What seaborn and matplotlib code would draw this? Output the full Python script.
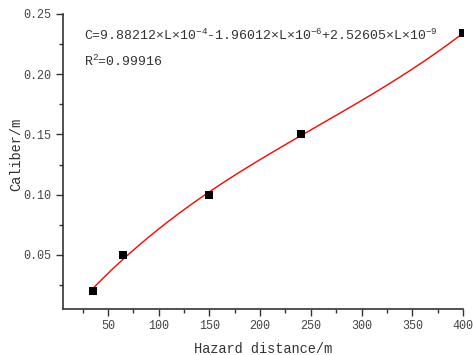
import numpy as np
import pandas as pd
import matplotlib
matplotlib.use("Agg")
import matplotlib.pyplot as plt
import seaborn as sns
from matplotlib.ticker import MultipleLocator

# data
hazard_distance = [35, 65, 150, 240, 400]
caliber = [0.020, 0.050, 0.100, 0.150, 0.234]

eq_text = (r"C=9.88212$\times$L$\times$10$^{-4}$-1.96012$\times$L$\times$10$^{-6}$"
           r"+2.52605$\times$L$\times$10$^{-9}$")
r2_text = r"R$^2$=0.99916"

sns.set_style("ticks")
plt.rcParams["font.family"] = ["Liberation Mono", "DejaVu Sans"]
plt.rcParams["mathtext.fontset"] = "custom"
plt.rcParams["mathtext.rm"] = "Liberation Mono"
plt.rcParams["mathtext.it"] = "Liberation Mono"

df = pd.DataFrame({"L": hazard_distance, "C": caliber})

# cubic polynomial fit
L = df["L"].to_numpy(float)
p = np.polyfit(L, df["C"].to_numpy(float), 3)
xs = np.linspace(L.min(), L.max(), 200)
fit = pd.DataFrame({"L": xs, "C": np.polyval(p, xs)})

fig = plt.figure(figsize=(4.73, 3.55), dpi=100)
ax = fig.add_axes([0.1326, 0.1304, 0.979 - 0.1326, 0.9606 - 0.1304])

sns.lineplot(data=fit, x="L", y="C", color="red", lw=1.0, ax=ax)
sns.scatterplot(data=df, x="L", y="C", marker="s", s=36, color="black",
                edgecolor="black", linewidth=0, ax=ax, zorder=3)

ax.set_xlim(5.5, 400)
ax.set_ylim(0.0054, 0.25)
ax.xaxis.set_major_locator(MultipleLocator(50))
ax.xaxis.set_minor_locator(MultipleLocator(25))
ax.yaxis.set_major_locator(MultipleLocator(0.05))
ax.yaxis.set_minor_locator(MultipleLocator(0.025))
ax.set_xticks([50, 100, 150, 200, 250, 300, 350, 400])
ax.set_yticks([0.05, 0.10, 0.15, 0.20, 0.25])
ax.set_yticklabels(["0.05", "0.10", "0.15", "0.20", "0.25"])

for s in ["top", "right"]:
    ax.spines[s].set_visible(False)
for s in ["left", "bottom"]:
    ax.spines[s].set_color("#333333")
    ax.spines[s].set_linewidth(1.2)
ax.tick_params(which="major", length=5, width=1.0, color="#333333",
               labelsize=8.5, labelcolor="#444444", pad=3)
ax.tick_params(which="minor", length=3, width=1.0, color="#333333")

ax.set_xlabel("Hazard distance/m", fontsize=9.8, color="#333333", labelpad=7)
ax.set_ylabel("Caliber/m", fontsize=9.8, color="#333333")
ax.yaxis.set_label_coords(-0.099, 0.525)

fig.text(84 / 473, 1 - 40.5 / 355, eq_text, fontsize=9.5, color="#333333",
         va="baseline", ha="left")
fig.text(84 / 473, 1 - 66 / 355, r2_text, fontsize=9.5, color="#333333",
         va="baseline", ha="left")

fig.savefig("out.png", dpi=100)
